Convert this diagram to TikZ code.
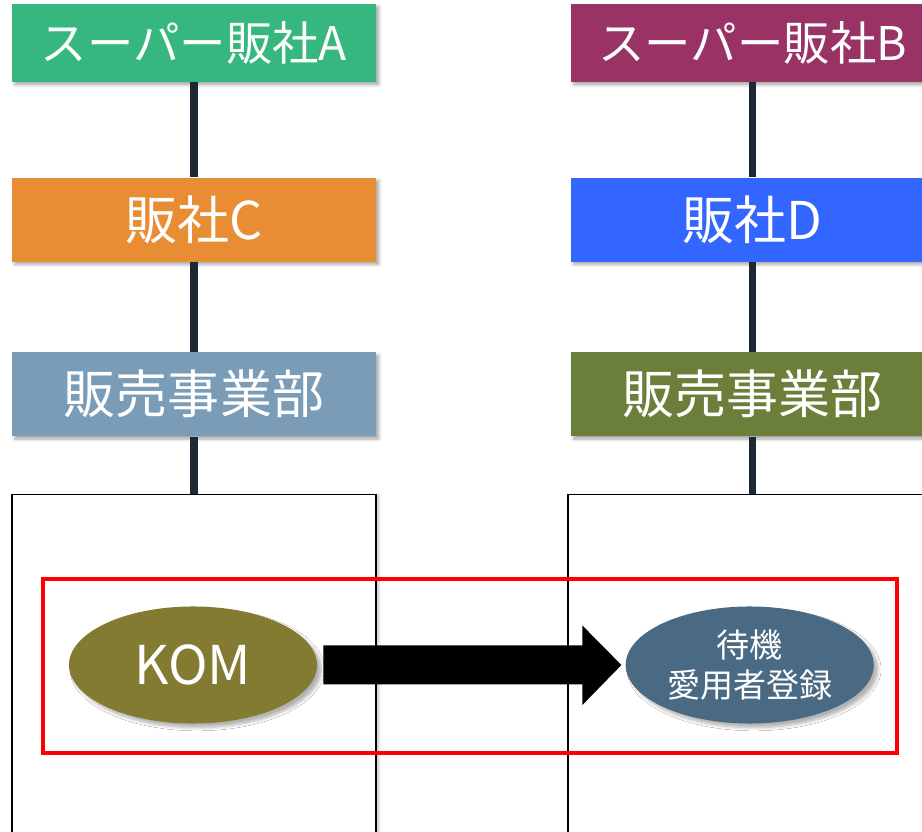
\documentclass[tikz,border=0pt]{standalone}
\usepackage{fontspec}
\setmainfont{Noto Sans CJK JP}
\usetikzlibrary{positioning, shapes.geometric, shadows.blur}

\definecolor{superA}{HTML}{36B77F}
\definecolor{superB}{HTML}{993366}
\definecolor{hanC}{HTML}{E98D34}
\definecolor{hanD}{HTML}{3366FF}
\definecolor{deptC}{HTML}{7A9CB6}
\definecolor{deptD}{HTML}{6B7F3A}
\definecolor{komcol}{HTML}{837B31}
\definecolor{regcol}{HTML}{4A6982}
\definecolor{linkcol}{HTML}{1C2833}

\begin{document}
\begin{tikzpicture}[
  x=0.025cm, y=-0.025cm,
  orgbox/.style={minimum width=9.1cm, minimum height=2.1cm, inner sep=0pt, text=white,
    font=\fontsize{37}{40}\selectfont,
    blur shadow={shadow xshift=2pt, shadow yshift=-2pt, shadow opacity=35, shadow blur steps=6}},
  topbox/.style={orgbox, minimum height=1.95cm, font=\fontsize{33}{40}\selectfont},
  frame/.style={draw, line width=1.4pt, fill=white, minimum width=9.075cm, minimum height=10cm,
    blur shadow={shadow xshift=2pt, shadow yshift=-1pt, shadow opacity=25, shadow blur steps=6}},
  oval/.style={ellipse, minimum width=6.2cm, minimum height=2.925cm, inner sep=0pt, text=white,
    blur shadow={shadow xshift=3pt, shadow yshift=-3pt, shadow opacity=30, shadow blur steps=6}},
  link/.style={line width=5pt, draw=linkcol}
]
\useasboundingbox (0,0) rectangle (922,832);
\clip (0,0) rectangle (922,832);

% Left chain
\node[topbox, fill=superA] (supA) at (194,43) {スーパー販社A};
\node[orgbox, fill=hanC, below=2.375cm of supA] (hanC) {販社C};
\node[orgbox, fill=deptC, below=2.25cm of hanC] (deptC) {販売事業部};
\node[frame, below=1.425cm of deptC] (frameC) {};

% Right chain
\node[topbox, fill=superB, right=4.85cm of supA] (supB) {スーパー販社B};
\node[orgbox, fill=hanD, below=2.375cm of supB] (hanD) {販社D};
\node[orgbox, fill=deptD, below=2.25cm of hanD] (deptD) {販売事業部};
\node[frame, below=1.425cm of deptD, xshift=-0.075cm] (frameD) {};

% Links
\draw[link] (supA) -- (hanC);
\draw[link] (hanC) -- (deptC);
\draw[link] (deptC) -- (frameC.north);
\draw[link] (supB) -- (hanD);
\draw[link] (hanD) -- (deptD);
\draw[link] (deptD.south) -- (deptD.south |- frameD.north);

% Highlight
\draw[red, line width=2.2pt] (43,579) rectangle (897,753);

% Steps
\node[oval, fill=komcol, font=\fontsize{38}{40}\selectfont] (kom) at (193,665) {KOM};
\node[oval, fill=regcol, right=7.7cm of kom, align=center,
  font=\fontsize{23.5}{28.5}\selectfont] (reg) {待機\\愛用者登録};

% Big arrow
\coordinate (tail) at ([xshift=0.15cm]kom.east);
\coordinate (tip) at ([xshift=-0.1cm]reg.west);
\fill (tail) ++(0,-19.5) -- ++(259,0) -- ++(0,-20) -- (tip) -- ++(-39,40)
  -- ++(0,-20.5) -- ++(-259,0) -- cycle;

\end{tikzpicture}
\end{document}
